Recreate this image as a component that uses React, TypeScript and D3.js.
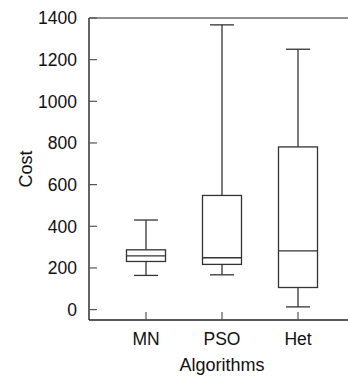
import React from "react";
import * as d3 from "d3";

const categories = ["MN", "PSO", "Het"];
const whiskerLow = [164, 167, 13];
const q1 = [231, 217, 106];
const median = [258, 249, 282];
const q3 = [287, 548, 781];
const whiskerHigh = [430, 1367, 1250];
const yTicks = [0, 200, 400, 600, 800, 1000, 1200, 1400];

export default function App() {
  const W = 348, H = 381;
  const left = 89, right = 355, top = 18, bottom = 320;
  const x = d3.scaleLinear().domain([0.25, 3.75]).range([left, right]);
  const y = d3.scaleLinear().domain([-50, 1400]).range([bottom, top]);
  const boxHalf = 19.5, capHalf = 12;
  const font = "'Liberation Sans', Arial, Helvetica, sans-serif";
  const axisColor = "#222";
  return (
    <div style={{ position: "absolute", left: 0, top: 0 }}>
      <svg width={W} height={H} style={{ display: "block" }}>
        <rect x={0} y={0} width={W} height={H} fill="#fff" />
        <line x1={left} y1={top} x2={left} y2={bottom} stroke={axisColor} strokeWidth={1.4} />
        <line x1={left} y1={bottom} x2={right} y2={bottom} stroke={axisColor} strokeWidth={1.4} />
        <line x1={left} y1={top} x2={right} y2={top} stroke={axisColor} strokeWidth={1.2} />
        {yTicks.map((t) => (
          <g key={t}>
            <line x1={left} x2={left + 8} y1={y(t)} y2={y(t)} stroke="#555" strokeWidth={1.2} />
            <text x={77} y={y(t)} dy="0.36em" textAnchor="end" fontSize={17.5} fontFamily={font} fill="#111">
              {t}
            </text>
          </g>
        ))}
        {categories.map((c, i) => (
          <g key={c}>
            <line x1={x(i + 1)} x2={x(i + 1)} y1={bottom} y2={bottom - 8} stroke="#555" strokeWidth={1.2} />
            <text x={x(i + 1)} y={345} textAnchor="middle" fontSize={17.5} fontFamily={font} fill="#111">
              {c}
            </text>
          </g>
        ))}
        {categories.map((c, i) => {
          const cx = x(i + 1);
          const s = "#333";
          return (
            <g key={"b" + c} fill="none" stroke={s} strokeWidth={1.3}>
              <line x1={cx} x2={cx} y1={y(q3[i])} y2={y(whiskerHigh[i])} />
              <line x1={cx} x2={cx} y1={y(q1[i])} y2={y(whiskerLow[i])} />
              <line x1={cx - capHalf} x2={cx + capHalf} y1={y(whiskerHigh[i])} y2={y(whiskerHigh[i])} />
              <line x1={cx - capHalf} x2={cx + capHalf} y1={y(whiskerLow[i])} y2={y(whiskerLow[i])} />
              <rect x={cx - boxHalf} width={boxHalf * 2} y={y(q3[i])} height={y(q1[i]) - y(q3[i])} fill="#fff" />
              <line x1={cx - boxHalf} x2={cx + boxHalf} y1={y(median[i])} y2={y(median[i])} />
            </g>
          );
        })}
        <text x={222} y={371} textAnchor="middle" fontSize={18} fontFamily={font} fill="#111">
          Algorithms
        </text>
        <text transform={`translate(31.5,169) rotate(-90)`} textAnchor="middle" fontSize={18} fontFamily={font} fill="#111">
          Cost
        </text>
      </svg>
    </div>
  );
}
